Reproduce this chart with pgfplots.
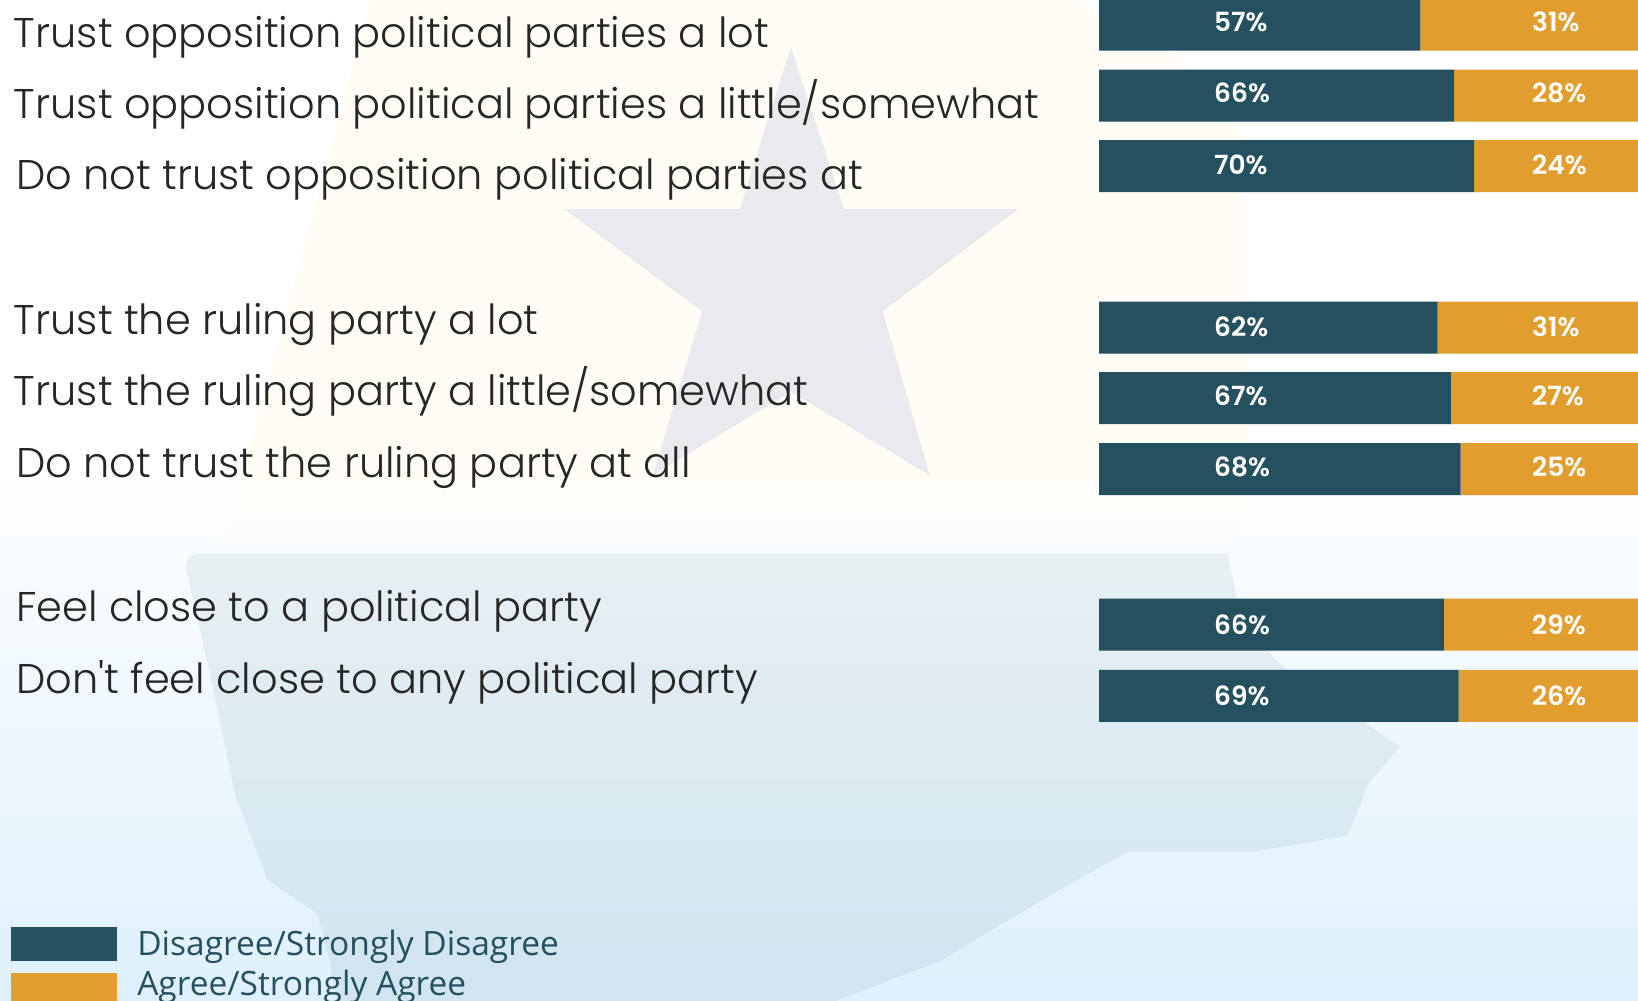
\documentclass[border=0pt]{standalone}
\usepackage{fontspec}
\usepackage{pgfplots}
\pgfplotsset{compat=1.18}
\usepackage{pgfplotstable}
\setmainfont{Open Sans}
\newfontfamily\labfont{Poppins Light}
\newfontfamily\numfont{Poppins SemiBold}
\definecolor{dark}{HTML}{24505F}
\definecolor{orng}{HTML}{E29D2F}
\definecolor{bgblue}{RGB}{222,240,252}
\definecolor{mapyel}{RGB}{255,253,245}
\definecolor{maptint}{RGB}{115,155,165}
\definecolor{stargrey}{RGB}{234,234,238}
\pgfplotstableread{
y      dis   agr
24.5   59.6  40.4
95.6   65.9  34.1
166.1  69.6  30.4
327.5  62.8  37.2
398    65.3  34.7
469    67.1  32.9
624.7  64.0  36.0
695.8  66.7  33.3
}\bars
\pgfplotstableread{
x    y    t
21.3 22   57\%
21.3 93   66\%
21.3 165  70\%
21.3 327  62\%
21.3 396  67\%
21.3 467  68\%
21.3 625  66\%
21.3 696  69\%
}\dislab
\pgfplotstableread{
x    y    t
80.3 22   31\%
80.3 93   28\%
80.3 165  24\%
80.3 327  31\%
80.3 396  27\%
80.3 467  25\%
80.3 625  29\%
80.3 696  26\%
}\agrlab
\pgfplotsset{base/.style={scale only axis,width=269.5pt,height=500.5pt,
  at={(549.5pt,-500.5pt)},anchor=south west,xmin=0,xmax=100,ymin=0,ymax=1001,y dir=reverse,
  axis lines=none}}
\begin{document}
\begin{tikzpicture}[x=0.52232pt,y=-0.52232pt]
\path[use as bounding box,clip] (0,0) rectangle (1568,958.2);
\fill[white] (0,0) rectangle (1568,470);
\fill[top color=white,bottom color=bgblue] (0,440) rectangle (1568,958.2);
% faint map of the country, three bands
\fill[mapyel] (355,0) -- (231,460) -- (1195,460) -- (1190,133) -- (1127,54) -- (1030,0) -- cycle;
\fill[mapyel,opacity=.8] (231,460) -- (227,475) -- (1195,475) -- (1195,460) -- cycle;
\fill[mapyel,opacity=.6] (227,475) -- (223,490) -- (1193,490) -- (1195,475) -- cycle;
\fill[mapyel,opacity=.4] (223,490) -- (219,505) -- (1187,505) -- (1193,490) -- cycle;
\fill[mapyel,opacity=.2] (219,505) -- (205,520) -- (1181,520) -- (1187,505) -- cycle;
\fill[maptint,opacity=.13] (190,530) -- (1175,530) -- (1190,600) -- (1230,640) -- (1290,680) -- (1340,715) -- (1310,750) -- (1290,800) -- (1200,815) -- (1080,815) -- (1000,860) -- (900,920) -- (800,958.2)
  -- (322,958.2) -- (315,916) -- (304,875) -- (256,842) -- (225,760) -- (200,640) -- (178,545) .. controls (178,535) and (182,530) .. (190,530) -- cycle;
\fill[stargrey] (757,45) -- (808,200) -- (975,200) -- (845,298) -- (890,455) -- (757,375) -- (625,455) -- (672,298) -- (540,200) -- (708,200) -- cycle;
% row labels
\begin{scope}[every node/.style={anchor=base west,inner sep=0pt,font=\labfont\fontsize{20.75}{22}\selectfont,text=black!85}]
\node at (13,45) {Trust opposition political parties a lot};
\node at (13,113) {Trust opposition political parties a little/somewhat};
\node at (15,181) {Do not trust opposition political parties at};
\node at (13,320) {Trust the ruling party a lot};
\node at (13,388) {Trust the ruling party a little/somewhat};
\node at (15,457) {Do not trust the ruling party at all};
\node at (15,595) {Feel close to a political party};
\node at (15,664) {Don't feel close to any political party};
\end{scope}
\begin{axis}[base,xbar stacked,bar width=26pt]
\addplot[fill=dark,draw=none] table[x=dis,y=y]{\bars};
\addplot[fill=orng,draw=none] table[x=agr,y=y]{\bars};
\end{axis}
\begin{axis}[base,
  nodes near coords,point meta=explicit symbolic,
  every node near coord/.style={anchor=west,inner sep=0pt,text=white,
    font=\numfont\fontsize{13.2}{14}\selectfont},
  nodes near coords align={anchor=west}]
\addplot[only marks,mark=none,draw=none] table[x=x,y=y,meta=t]{\dislab};
\addplot[only marks,mark=none,draw=none] table[x=x,y=y,meta=t]{\agrlab};
\end{axis}
% legend
\fill[dark] (11,887) rectangle (112,920);
\fill[orng] (11,931) rectangle (112,964);
\begin{scope}[every node/.style={anchor=base west,inner sep=0pt,text=dark,font=\fontsize{16.75}{17}\selectfont}]
\node at (131,915) {Disagree/Strongly Disagree};
\node at (131,952.5) {Agree/Strongly Agree};
\end{scope}
\end{tikzpicture}
\end{document}
